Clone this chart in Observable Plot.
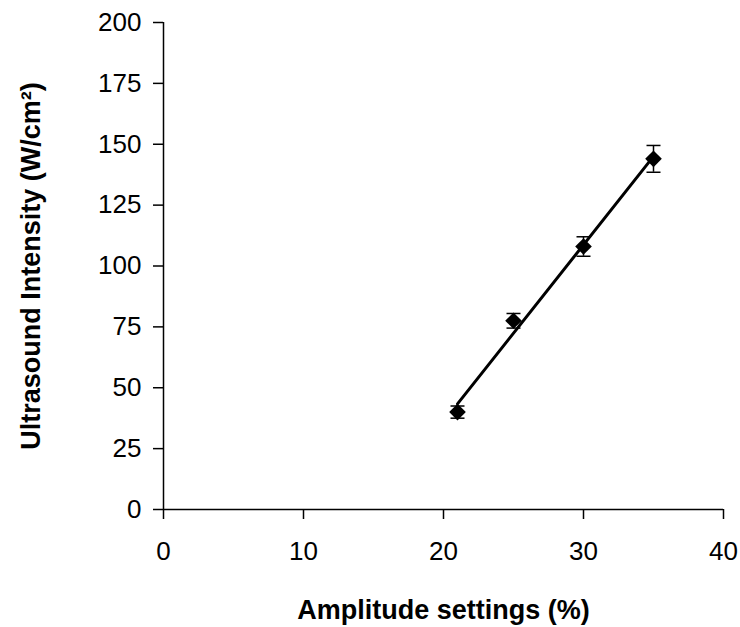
<!DOCTYPE html>
<html>
<head>
<meta charset="utf-8">
<script src="https://cdn.jsdelivr.net/npm/d3@7"></script>
<script src="https://cdn.jsdelivr.net/npm/@observablehq/plot@0.6"></script>
<style>
  html, body { margin: 0; padding: 0; background: white; }
  #chart svg [aria-label="x-axis label"] text,
  #chart svg [aria-label="y-axis label"] text { font-weight: bold; font-size: 27px; }
</style>
</head>
<body>
<div id="chart"></div>
<script>
// Data
const amplitude = [21, 25, 30, 35];          // Amplitude settings (%)
const intensity = [40, 77.5, 108, 144];      // Ultrasound intensity (W/cm²)
const errorBar = [2.5, 3, 4, 5.5];           // ± error
const xTicks = [0, 10, 20, 30, 40];
const yTicks = [0, 25, 50, 75, 100, 125, 150, 175, 200];
const xTitle = "Amplitude settings (%)";
const yTitle = "Ultrasound Intensity (W/cm²)";

const data = amplitude.map((a, i) => ({
  x: a,
  y: intensity[i],
  lo: intensity[i] - errorBar[i],
  hi: intensity[i] + errorBar[i]
}));

// horizontal cap symbol for error bars
const capSymbol = {
  draw(context, size) {
    const r = Math.sqrt(size / Math.PI);
    context.moveTo(-r, 0);
    context.lineTo(r, 0);
  }
};

const chart = Plot.plot({
  width: 740,
  height: 627,
  marginLeft: 163,
  marginRight: 17,
  marginTop: 22,
  marginBottom: 118,
  style: { fontFamily: "'Liberation Sans', Arial, sans-serif", fontSize: "26px", color: "black", background: "white" },
  x: { domain: [0, 40] },
  y: { domain: [0, 200] },
  marks: [
    Plot.axisX({ ticks: xTicks, tickSize: 10, tickPadding: 22, strokeWidth: 1.5,
      label: xTitle, labelAnchor: "center", labelArrow: "none", labelOffset: 109 }),
    Plot.axisY({ ticks: yTicks, tickSize: 10, tickPadding: 12, strokeWidth: 1.5,
      label: yTitle, labelAnchor: "center", labelArrow: "none", labelOffset: 143 }),
    Plot.ruleX([xTicks[0]], { stroke: "black", strokeWidth: 1.5 }),
    Plot.ruleY([yTicks[0]], { stroke: "black", strokeWidth: 1.5 }),
    Plot.ruleX(data, { x: "x", y1: "lo", y2: "hi", stroke: "black", strokeWidth: 1.5 }),
    Plot.dot(data, { x: "x", y: "lo", symbol: capSymbol, r: 7, stroke: "black", strokeWidth: 1.5 }),
    Plot.dot(data, { x: "x", y: "hi", symbol: capSymbol, r: 7, stroke: "black", strokeWidth: 1.5 }),
    Plot.linearRegressionY(data, { x: "x", y: "y", ci: 0, stroke: "black", strokeWidth: 3 }),
    Plot.dot(data, { x: "x", y: "y", symbol: "diamond2", r: 7.5, fill: "black", stroke: "none" })
  ]
});
document.getElementById("chart").appendChild(chart);
</script>
</body>
</html>
